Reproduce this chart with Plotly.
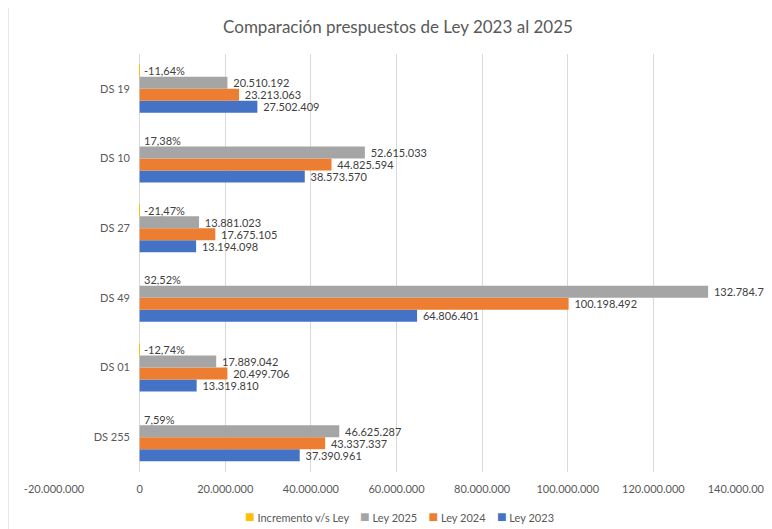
import plotly.graph_objects as go

categories = ["DS 255", "DS 01", "DS 49", "DS 27", "DS 10", "DS 19"]
incremento = [0.0759, -0.1274, 0.3252, -0.2147, 0.1738, -0.1164]
ley_2025 = [46625287, 17889042, 132784731, 13881023, 52615033, 20510192]
ley_2024 = [43337337, 20499706, 100198492, 17675105, 44825594, 23213063]
ley_2023 = [37390961, 13319810, 64806401, 13194098, 38573570, 27502409]
tick_vals = [-20000000, 0, 20000000, 40000000, 60000000, 80000000, 100000000, 120000000, 140000000]


def fmt_int(v):
    s = f"{abs(v):,}".replace(",", ".")
    return ("-" if v < 0 else "") + s


def fmt_pct(v):
    return f"{v * 100:.2f}%".replace(".", ",")


tick_text = [fmt_int(v) for v in tick_vals]

FONT = "Lato"
TXT = "#595959"
LBL = "#404040"

fig = go.Figure()
series = [
    ("Ley 2023", ley_2023, "#4472C4"),
    ("Ley 2024", ley_2024, "#ED7D31"),
    ("Ley 2025", ley_2025, "#A5A5A5"),
]
for name, vals, col in series:
    fig.add_trace(go.Bar(
        y=categories, x=vals, name=name, orientation="h",
        marker=dict(color=col, line=dict(width=0)),
        text=[" " + fmt_int(v) for v in vals], textposition="outside",
        constraintext="none",
        textfont=dict(family=FONT, size=11, color=LBL),
        cliponaxis=False, showlegend=False,
    ))
fig.add_trace(go.Bar(
    y=categories, x=incremento, name="Incremento v/s Ley", orientation="h",
    marker=dict(color="#FFC000", line=dict(width=0)), showlegend=False,
))

annotations = []
for cat, v in zip(categories, incremento):
    annotations.append(dict(
        x=0, y=cat, xref="x", yref="y", text=fmt_pct(v), showarrow=False,
        xanchor="left", yanchor="middle", xshift=2, yshift=18,
        font=dict(family=FONT, size=11, color=LBL),
    ))

# compact legend built from the traces (reverse order)
items = []
for tr in reversed(fig.data):
    items.append(f'<span style="color:{tr.marker.color};font-size:16px">■</span>&nbsp;{tr.name}')
legend_text = "&nbsp;&nbsp;&nbsp;&nbsp;".join(items)

OFF = 8  # page body margin
W, H = 772 - OFF, 529 - OFF
PL, PR, PT, PB = 54, 739, 54, 472  # plot area in page pixels
L = PL - OFF
R = W - (PR - OFF)
T = PT - OFF
B = H - (PB - OFF)
pw = W - L - R
ph = H - T - B

annotations.append(dict(
    x=(399 - PL) / pw, y=-(515 - PB) / ph, xref="paper", yref="paper",
    text=legend_text, showarrow=False, xanchor="center", yanchor="middle",
    font=dict(family=FONT, size=11, color=TXT),
))

fig.update_layout(
    width=W, height=H,
    margin=dict(l=L, r=R, t=T, b=B, autoexpand=False),
    paper_bgcolor="#E8E8E8",
    plot_bgcolor="white",
    barmode="group", bargap=0.31, bargroupgap=0,
    font=dict(family=FONT, size=11, color=TXT),
    showlegend=False,
    title=dict(text="Comparación prespuestos de Ley 2023 al 2025",
               x=(398 - OFF) / W, xanchor="center", y=1 - (27 - OFF) / H, yanchor="middle",
               font=dict(family=FONT, size=17, color=TXT)),
    annotations=annotations,
    shapes=[dict(type="rect", xref="paper", yref="paper",
                 x0=(9 - PL) / pw, x1=(W + 10 - L) / pw,
                 y0=-(H + 10 - T - ph) / ph, y1=(PB - 7) / ph,
                 fillcolor="white", line=dict(width=0), layer="below")],
    xaxis=dict(range=[-20000000, 140000000], tickvals=tick_vals, ticktext=tick_text,
               showgrid=True, gridcolor="#D9D9D9", gridwidth=1,
               zeroline=True, zerolinecolor="#D9D9D9", zerolinewidth=1,
               showline=False, ticks="", ticklabelstandoff=9, automargin=False,
               tickfont=dict(family=FONT, size=11, color=TXT)),
    yaxis=dict(categoryorder="array", categoryarray=categories,
               anchor="free", position=(140 - PL) / pw, automargin=False,
               showgrid=False, zeroline=False, showline=False, ticks="",
               ticklabelstandoff=10,
               tickfont=dict(family=FONT, size=11, color=TXT)),
)

fig.write_html("out.html")
